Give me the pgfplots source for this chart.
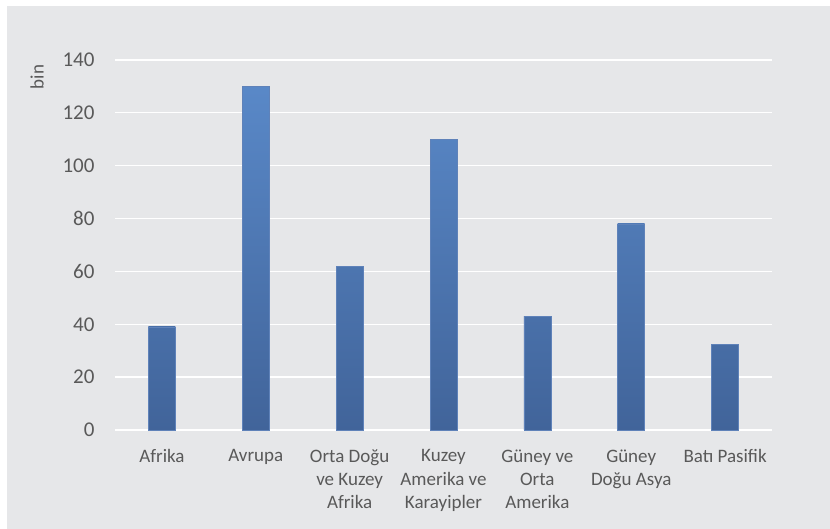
\documentclass[border=0pt]{standalone}
\usepackage{fontspec}
\setmainfont{Carlito}
\usepackage{pgfplots}
\pgfplotsset{compat=1.18}
\definecolor{bg}{RGB}{230,231,233}
\definecolor{txt}{RGB}{89,89,89}
\definecolor{barTop}{RGB}{91,139,203}
\definecolor{barBot}{RGB}{65,100,154}
\definecolor{barEdge}{RGB}{95,130,185}
\begin{document}
\begin{tikzpicture}[x=1pt,y=1pt]
\path[use as bounding box] (0,0) rectangle (830,529);
\fill[bg] (7,0) rectangle (830,523);
\begin{axis}[
  at={(115pt,99pt)}, anchor=south west,
  scale only axis, width=657pt, height=370pt,
  xmin=-0.5, xmax=6.5, ymin=0, ymax=140,
  axis line style={draw=none},
  ytick={0,20,...,140},
  xtick={0,...,6},
  xticklabels={Afrika, Avrupa, {Orta Doğu\\ve Kuzey\\Afrika}, {Kuzey\\Amerika ve\\Karayipler}, {Güney ve\\Orta\\Amerika}, {Güney\\Doğu Asya}, {Batı Pasifik}},
  major tick length=0pt,
  ymajorgrids,
  grid style={white, line width=1.3pt},
  /pgf/number format/assume math mode=true,
  yticklabel style={font=\fontsize{21}{24}\selectfont, text=txt, xshift=-17pt},
  xticklabel style={font=\fontsize{19}{23.3}\selectfont, text=txt, align=center, yshift=-16pt},
  ybar, bar width=27pt, bar shift=0pt,
  clip=false,
]
\addplot[draw=barEdge, line width=0.6pt, top color=barTop!28!barBot, bottom color=barBot] coordinates {(0,39)};
\addplot[draw=barEdge, line width=0.6pt, top color=barTop!93!barBot, bottom color=barBot] coordinates {(1,130)};
\addplot[draw=barEdge, line width=0.6pt, top color=barTop!44!barBot, bottom color=barBot] coordinates {(2,62)};
\addplot[draw=barEdge, line width=0.6pt, top color=barTop!79!barBot, bottom color=barBot] coordinates {(3,110)};
\addplot[draw=barEdge, line width=0.6pt, top color=barTop!31!barBot, bottom color=barBot] coordinates {(4,43)};
\addplot[draw=barEdge, line width=0.6pt, top color=barTop!56!barBot, bottom color=barBot] coordinates {(5,78)};
\addplot[draw=barEdge, line width=0.6pt, top color=barTop!23!barBot, bottom color=barBot] coordinates {(6,32.5)};
\end{axis}
\node[rotate=90, text=txt, font=\fontsize{19}{22}\selectfont] at (37,452) {bin};
\end{tikzpicture}
\end{document}
